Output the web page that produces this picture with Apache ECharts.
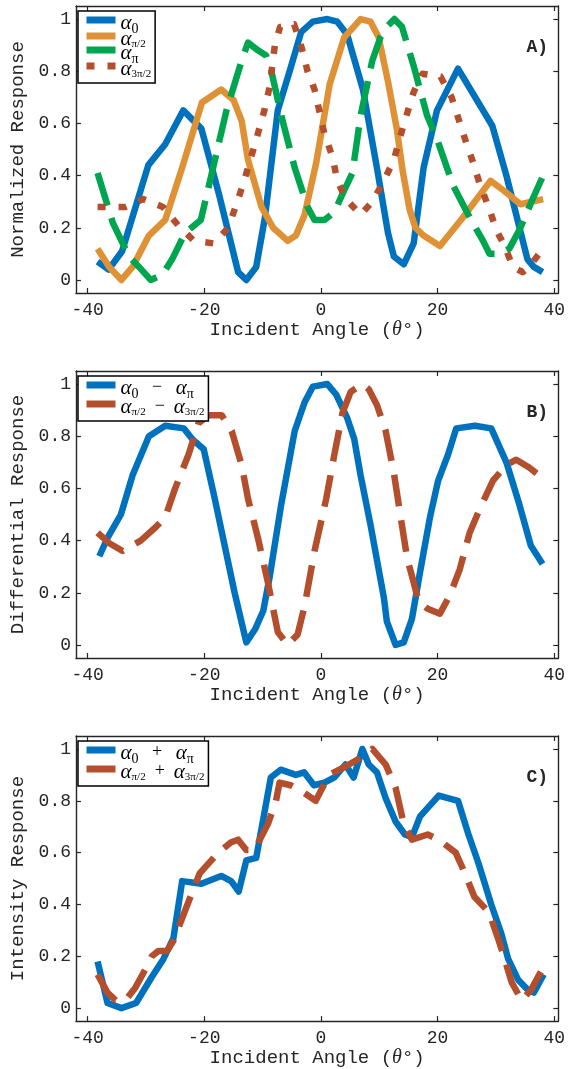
<!DOCTYPE html>
<html>
<head>
<meta charset="utf-8">
<script src="https://cdn.jsdelivr.net/npm/echarts@6/dist/echarts.min.js"></script>
<style>
  html, body { margin: 0; padding: 0; background: #fff; }
  #chart { width: 568px; height: 1069px; }
</style>
</head>
<body>
<div id="chart"></div>
<script>
// Tick positions
const angleTicks = [-40, -20, 0, 20, 40];
const responseTicks = [0, 0.2, 0.4, 0.6, 0.8, 1];

// Panel A: normalized response per phase, [angle (deg), response]
const alpha0 = [[-38.3,0.07],[-36.4,0.04],[-34.1,0.11],[-29.6,0.44],[-26.7,0.52],[-23.6,0.65],[-20.5,0.58],[-17.5,0.33],[-14.2,0.03],[-12.8,0.0],[-11.1,0.05],[-9.6,0.24],[-7.4,0.65],[-5.1,0.82],[-3.4,0.95],[-1.4,0.99],[1.1,1.0],[2.8,0.99],[4.5,0.94],[7.2,0.73],[9.6,0.43],[11.5,0.18],[12.5,0.09],[14.2,0.06],[15.9,0.14],[17.6,0.43],[19.9,0.65],[23.5,0.81],[29.4,0.59],[31.8,0.40],[35.4,0.08],[36.5,0.05],[38.0,0.03]];
const alphaHalfPi = [[-38.3,0.12],[-36.3,0.05],[-34.2,0.0],[-32.3,0.05],[-29.5,0.17],[-26.7,0.23],[-23.8,0.43],[-20.4,0.68],[-17.1,0.73],[-15.0,0.69],[-13.6,0.61],[-12.5,0.46],[-10.2,0.28],[-8.2,0.2],[-5.7,0.15],[-4.3,0.17],[-2.8,0.25],[-0.8,0.45],[1.5,0.75],[4.0,0.93],[6.8,1.0],[8.5,0.99],[9.9,0.93],[11.5,0.76],[13.0,0.58],[14.0,0.42],[15.2,0.27],[16.2,0.2],[17.6,0.17],[20.4,0.13],[24.0,0.23],[29.1,0.38],[31.5,0.34],[34.2,0.29],[38.1,0.31]];
const alphaPi = [[-38.3,0.41],[-35.7,0.22],[-32.9,0.09],[-31.2,0.05],[-29.2,0.0],[-27.2,0.02],[-25.5,0.08],[-23.3,0.18],[-20.6,0.23],[-18.7,0.41],[-16.2,0.65],[-13.6,0.84],[-12.5,0.91],[-10.8,0.88],[-9.4,0.86],[-8.5,0.8],[-6.8,0.63],[-4.5,0.43],[-2.3,0.28],[-1.1,0.23],[0.6,0.23],[2.3,0.26],[3.7,0.33],[5.4,0.41],[6.8,0.63],[8.8,0.84],[10.2,0.93],[11.3,0.97],[12.6,1.0],[13.9,0.97],[15.9,0.82],[18.2,0.63],[19.9,0.54],[22.7,0.36],[25.5,0.24],[27.8,0.15],[28.9,0.1],[30.6,0.1],[32.3,0.12],[34.0,0.19],[36.3,0.31],[38.3,0.41]];
const alphaThreeHalfPi = [[-38.3,0.28],[-35.7,0.28],[-33.5,0.28],[-30.5,0.31],[-27.1,0.28],[-24.5,0.21],[-21.8,0.15],[-18.4,0.14],[-15.9,0.2],[-14.5,0.29],[-13.3,0.37],[-11.2,0.53],[-9.7,0.65],[-8.8,0.74],[-7.9,0.9],[-7.0,0.97],[-4.6,0.98],[-3.3,0.89],[-2.3,0.8],[-1.1,0.73],[0.6,0.56],[2.0,0.47],[2.8,0.38],[4.3,0.31],[6.8,0.25],[8.8,0.3],[10.8,0.38],[12.5,0.46],[13.6,0.55],[14.8,0.64],[15.9,0.72],[17.4,0.79],[20.5,0.78],[22.4,0.7],[23.7,0.61],[24.7,0.54],[26.1,0.45],[27.2,0.37],[28.9,0.27],[30.1,0.19],[31.5,0.13],[32.9,0.05],[34.6,0.03],[35.7,0.05],[37.4,0.1]];

// Panel B: differential response
const diffZeroPi = [[-38.0,0.34],[-36.6,0.41],[-34.3,0.5],[-32.3,0.65],[-29.5,0.8],[-26.7,0.84],[-23.5,0.83],[-22.1,0.79],[-20.1,0.75],[-18.2,0.56],[-16.5,0.38],[-14.8,0.2],[-12.8,0.01],[-11.3,0.06],[-9.9,0.13],[-8.8,0.26],[-6.8,0.54],[-4.5,0.82],[-2.8,0.93],[-1.4,0.99],[1.1,1.0],[2.6,0.96],[4.5,0.87],[5.7,0.79],[6.8,0.65],[8.5,0.46],[10.8,0.18],[11.3,0.09],[12.8,0.0],[14.2,0.01],[15.6,0.1],[17.0,0.28],[18.7,0.49],[20.1,0.63],[21.8,0.73],[23.2,0.83],[26.4,0.84],[29.2,0.83],[31.8,0.7],[34.0,0.54],[36.0,0.38],[38.0,0.31]];
const diffHalfPi = [[-38.3,0.43],[-36.3,0.39],[-34.0,0.36],[-30.9,0.4],[-28.4,0.45],[-26.7,0.49],[-25.0,0.6],[-22.7,0.73],[-21.0,0.85],[-19.3,0.88],[-17.0,0.88],[-15.3,0.82],[-13.6,0.69],[-12.5,0.56],[-10.8,0.41],[-9.1,0.24],[-7.4,0.05],[-5.7,0.0],[-4.0,0.04],[-2.8,0.15],[-1.1,0.36],[0.9,0.56],[2.3,0.73],[3.7,0.89],[5.1,0.97],[7.1,1.0],[8.2,0.98],[9.6,0.92],[11.1,0.82],[12.5,0.66],[13.6,0.5],[14.8,0.33],[15.9,0.24],[16.7,0.17],[18.2,0.14],[20.4,0.12],[22.1,0.19],[23.8,0.29],[25.5,0.43],[27.2,0.52],[29.5,0.63],[31.8,0.69],[33.5,0.71],[35.7,0.68],[38.0,0.64]];

// Panel C: intensity response
const sumZeroPi = [[-38.3,0.18],[-36.6,0.02],[-34.2,0.0],[-31.7,0.02],[-29.0,0.12],[-27.0,0.19],[-25.3,0.27],[-23.8,0.49],[-20.5,0.48],[-17.1,0.51],[-15.4,0.49],[-14.1,0.45],[-12.8,0.57],[-11.1,0.58],[-8.6,0.89],[-6.9,0.92],[-4.3,0.9],[-2.9,0.91],[-1.2,0.86],[0.6,0.87],[2.3,0.89],[4.2,0.94],[5.6,0.89],[7.1,1.0],[8.2,0.94],[9.6,0.91],[11.1,0.81],[12.8,0.72],[14.4,0.67],[15.6,0.66],[17.0,0.74],[20.2,0.82],[23.5,0.8],[25.3,0.67],[27.0,0.56],[29.2,0.4],[30.9,0.29],[32.1,0.19],[33.8,0.11],[35.5,0.07],[36.5,0.06],[38.2,0.13]];
const sumHalfPi = [[-38.3,0.13],[-36.6,0.06],[-35.2,0.03],[-33.5,0.03],[-31.8,0.08],[-30.1,0.15],[-29.0,0.2],[-27.9,0.22],[-26.4,0.22],[-25.3,0.26],[-22.2,0.44],[-20.8,0.52],[-17.6,0.6],[-15.4,0.64],[-14.2,0.65],[-12.8,0.61],[-11.4,0.61],[-9.1,0.71],[-7.7,0.8],[-7.1,0.87],[-5.2,0.86],[-3.5,0.84],[-0.9,0.8],[1.4,0.9],[4.8,0.94],[7.1,0.97],[8.8,1.0],[11.1,0.94],[12.8,0.85],[14.2,0.71],[15.6,0.65],[18.3,0.67],[20.2,0.65],[23.1,0.6],[24.7,0.52],[26.3,0.43],[28.8,0.37],[30.5,0.26],[31.5,0.19],[32.7,0.1],[34.4,0.03],[36.0,0.07],[37.7,0.14]];

const yTitles = ['Normalized Response', 'Differential Response', 'Intensity Response'];
const panelTags = ['A)', 'B)', 'C)'];

const BLUE = '#0072BD', ORANGE = '#DE9135', GREEN = '#00A64F', RUST = '#B34F2D';
const INK = '#262626';
const MONO = "'Courier New', 'Liberation Mono', monospace";
const SERIF = "'Liberation Serif', 'DejaVu Serif', serif";

const gridTops = [6, 371, 736];
const GRID_H = 287, GRID_L = 73, GRID_R = 9;
const X_MIN = -42, X_MAX = 40.7, Y_MIN = -0.05, Y_MAX = 1.05;

const grids = [], xAxes = [], yAxes = [], series = [], legends = [], titles = [];

function axisCommon(ticks) {
  return {
    axisLine: { show: true, onZero: false, lineStyle: { color: INK, width: 1.4 } },
    axisTick: { show: true, inside: true, length: 5, customValues: ticks, lineStyle: { color: INK, width: 1.2 } },
    splitLine: { show: false }
  };
}

gridTops.forEach((top, i) => {
  grids.push({ left: GRID_L, right: GRID_R, top: top, height: GRID_H });
  // bottom + top x axes
  xAxes.push(Object.assign(axisCommon(angleTicks), {
    type: 'value', gridIndex: i, position: 'bottom', min: X_MIN, max: X_MAX,
    name: 'Incident Angle ({t|θ}°)', nameLocation: 'middle', nameGap: 21,
    nameTextStyle: { fontFamily: MONO, fontSize: 19, color: INK,
      rich: { t: { fontFamily: SERIF, fontStyle: 'italic', fontSize: 20, color: INK } } },
    axisLabel: { show: true, customValues: angleTicks, margin: 8, fontFamily: MONO, fontSize: 18, color: INK }
  }));
  xAxes.push(Object.assign(axisCommon(angleTicks), {
    type: 'value', gridIndex: i, position: 'top', min: X_MIN, max: X_MAX,
    axisLabel: { show: false }
  }));
  // left + right y axes
  yAxes.push(Object.assign(axisCommon(responseTicks), {
    type: 'value', gridIndex: i, position: 'left', min: Y_MIN, max: Y_MAX,
    name: yTitles[i], nameLocation: 'middle', nameGap: 49, nameRotate: 90,
    nameTextStyle: { fontFamily: MONO, fontSize: 19, color: INK },
    axisLabel: { show: true, customValues: responseTicks, margin: 5, fontFamily: MONO, fontSize: 18, color: INK }
  }));
  yAxes.push(Object.assign(axisCommon(responseTicks), {
    type: 'value', gridIndex: i, position: 'right', min: Y_MIN, max: Y_MAX,
    axisLabel: { show: false }
  }));
  titles.push({
    text: panelTags[i], right: 20, top: top + 32, padding: 0,
    textStyle: { fontFamily: MONO, fontWeight: 'bold', fontSize: 18, color: INK }
  });
});

function addLine(name, data, panel, color, dash) {
  series.push({
    name: name, type: 'line', data: data,
    xAxisIndex: panel * 2, yAxisIndex: panel * 2,
    symbol: 'none', showSymbol: false, silent: true, clip: true,
    lineStyle: { color: color, width: 6.5, type: dash || 'solid', cap: 'butt', join: 'round' },
    itemStyle: { color: color }
  });
}

addLine('a0', alpha0, 0, BLUE);
addLine('aHalfPi', alphaHalfPi, 0, ORANGE);
addLine('aPi', alphaPi, 0, GREEN, [34, 13]);
addLine('aThreeHalfPi', alphaThreeHalfPi, 0, RUST, [8, 13]);
addLine('d0', diffZeroPi, 1, BLUE);
addLine('dHalf', diffHalfPi, 1, RUST, [32, 14]);
addLine('s0', sumZeroPi, 2, BLUE);
addLine('sHalf', sumHalfPi, 2, RUST, [32, 14]);

const legendText = {
  a0: '{a|α}{s|0}',
  aHalfPi: '{a|α}{f|π/2}',
  aPi: '{a|α}{s|π}',
  aThreeHalfPi: '{a|α}{f|3π/2}',
  d0: '{a|α}{s|0}{o|   −   }{a|α}{s|π}',
  dHalf: '{a|α}{f|π/2}{o|  −  }{a|α}{f|3π/2}',
  s0: '{a|α}{s|0}{o|   +   }{a|α}{s|π}',
  sHalf: '{a|α}{f|π/2}{o|  +  }{a|α}{f|3π/2}'
};

// subscripts are pushed down with top padding inside their own boxes
const legendRich = {
  a: { fontFamily: SERIF, fontStyle: 'italic', fontSize: 21, lineHeight: 14, verticalAlign: 'top', color: '#000' },
  s: { fontFamily: SERIF, fontSize: 14, lineHeight: 10, padding: [9, 0, 0, 0], verticalAlign: 'top', color: '#000' },
  f: { fontFamily: SERIF, fontSize: 11, lineHeight: 9, padding: [10, 0, 0, 0], verticalAlign: 'top', color: '#000' },
  o: { fontFamily: SERIF, fontSize: 18, lineHeight: 14, verticalAlign: 'top', color: '#000' }
};

function makeLegend(names, top, gap) {
  return {
    data: names, orient: 'vertical', left: 78, top: top,
    backgroundColor: '#fff', borderColor: '#000', borderWidth: 1.5, borderRadius: 0,
    padding: [2, 4, 3, 5], itemGap: gap, itemWidth: 29, itemHeight: 16,
    selectedMode: false,
    lineStyle: { width: 7 },
    itemStyle: { opacity: 0, borderWidth: 0 },
    formatter: n => legendText[n],
    textStyle: { rich: legendRich, fontSize: 12, padding: [0, 0, 0, 0] }
  };
}

legends.push(makeLegend(['a0', 'aHalfPi', 'aPi', 'aThreeHalfPi'], 11, -7));
legends.push(makeLegend(['d0', 'dHalf'], 376, -4));
legends.push(makeLegend(['s0', 'sHalf'], 741, -4));

const chart = echarts.init(document.getElementById('chart'), null, { renderer: 'canvas' });
chart.setOption({
  animation: false,
  backgroundColor: '#fff',
  title: titles,
  grid: grids,
  xAxis: xAxes,
  yAxis: yAxes,
  legend: legends,
  series: series
});
</script>
</body>
</html>
